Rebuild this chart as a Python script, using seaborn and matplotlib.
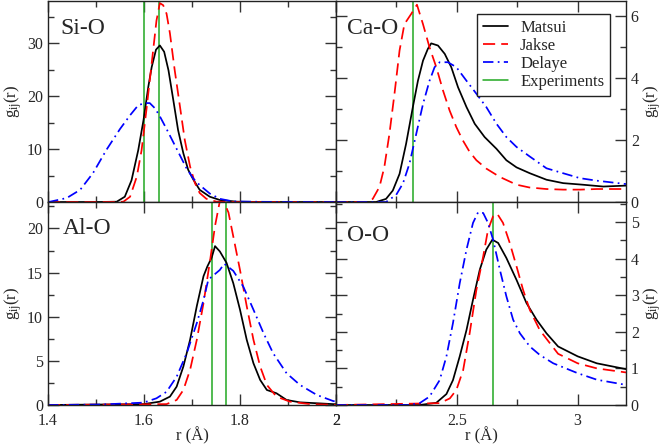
import numpy as np
import pandas as pd
import matplotlib
matplotlib.use("Agg")
import matplotlib.pyplot as plt
from matplotlib.ticker import MultipleLocator
import seaborn as sns

# ---------------- data ----------------
models = ["Matsui", "Jakse", "Delaye"]
exp_label = "Experiments"
panel_names = ["Si-O", "Ca-O", "Al-O", "O-O"]

# Si-O
sio_r_matsui = [1.40, 1.50, 1.543, 1.56, 1.574, 1.588, 1.599, 1.609, 1.616, 1.625, 1.633, 1.642, 1.651, 1.661, 1.671, 1.682, 1.692, 1.703, 1.716, 1.737, 1.758, 1.793, 1.85, 2.0]
sio_g_matsui = [0.0, 0.0, 0.05, 1.0, 4.1, 9.8, 15.5, 21.8, 25.5, 28.8, 29.6, 28.4, 24.9, 19.3, 13.6, 9.2, 6.1, 4.2, 2.3, 1.0, 0.38, 0.06, 0.0, 0.0]
sio_r_jakse = [1.40, 1.50, 1.557, 1.571, 1.585, 1.595, 1.605, 1.616, 1.626, 1.633, 1.640, 1.647, 1.654, 1.664, 1.675, 1.685, 1.696, 1.706, 1.716, 1.730, 1.751, 1.80, 2.0]
sio_g_jakse = [0.0, 0.0, 0.05, 1.0, 4.8, 9.8, 17.4, 26.2, 34.3, 37.6, 37.2, 35.6, 31.9, 24.9, 18.0, 11.7, 6.7, 3.6, 1.7, 0.6, 0.06, 0.0, 0.0]
sio_r_delaye = [1.40, 1.404, 1.439, 1.467, 1.494, 1.522, 1.55, 1.571, 1.588, 1.602, 1.612, 1.623, 1.633, 1.647, 1.661, 1.675, 1.689, 1.703, 1.716, 1.737, 1.758, 1.786, 1.85, 2.0]
sio_g_delaye = [0.0, 0.05, 0.75, 2.3, 5.5, 9.9, 13.8, 16.4, 18.3, 18.7, 18.7, 17.7, 16.2, 13.8, 11.3, 8.8, 6.3, 4.4, 3.2, 1.6, 0.6, 0.1, 0.03, 0.0]
sio_exp = [1.60, 1.631]

# Ca-O
cao_r_matsui = [2.0, 2.166, 2.207, 2.235, 2.263, 2.29, 2.318, 2.339, 2.36, 2.38, 2.394, 2.422, 2.45, 2.477, 2.505, 2.54, 2.574, 2.615, 2.664, 2.705, 2.747, 2.802, 2.871, 2.94, 3.02, 3.106, 3.2]
cao_g_matsui = [0.0, 0.0, 0.1, 0.37, 0.91, 1.88, 3.07, 3.92, 4.57, 4.95, 5.13, 5.06, 4.79, 4.36, 3.71, 3.07, 2.53, 2.1, 1.72, 1.35, 1.12, 0.93, 0.72, 0.61, 0.56, 0.5, 0.53]
cao_r_jakse = [2.0, 2.124, 2.152, 2.18, 2.2, 2.221, 2.242, 2.263, 2.283, 2.311, 2.335, 2.36, 2.387, 2.415, 2.443, 2.47, 2.498, 2.525, 2.553, 2.581, 2.622, 2.678, 2.747, 2.80, 2.87, 2.94, 3.01, 3.08, 3.2]
cao_g_jakse = [0.0, 0.0, 0.1, 0.49, 1.13, 2.2, 3.5, 4.9, 5.75, 6.08, 6.38, 5.75, 5.0, 4.36, 3.6, 2.96, 2.42, 1.99, 1.62, 1.35, 1.08, 0.81, 0.56, 0.47, 0.42, 0.40, 0.40, 0.42, 0.42]
cao_r_delaye = [2.0, 2.207, 2.249, 2.277, 2.304, 2.332, 2.36, 2.387, 2.408, 2.429, 2.463, 2.498, 2.54, 2.581, 2.622, 2.664, 2.705, 2.747, 2.802, 2.871, 2.94, 3.01, 3.079, 3.2]
cao_g_delaye = [0.0, 0.0, 0.23, 0.6, 1.24, 2.2, 3.17, 3.92, 4.36, 4.52, 4.52, 4.36, 3.92, 3.5, 3.07, 2.53, 2.1, 1.78, 1.47, 1.09, 0.93, 0.77, 0.69, 0.58]
cao_exp = [2.32]

# Al-O
alo_r_matsui = [1.40, 1.599, 1.633, 1.654, 1.668, 1.682, 1.696, 1.71, 1.724, 1.732, 1.741, 1.748, 1.758, 1.772, 1.786, 1.80, 1.814, 1.828, 1.842, 1.856, 1.876, 1.897, 1.925, 1.994, 2.0]
alo_g_matsui = [0.0, 0.1, 0.38, 0.95, 2.08, 4.36, 7.39, 11.2, 14.6, 15.7, 16.7, 18.0, 17.4, 16.1, 13.8, 10.8, 7.39, 4.73, 2.84, 1.7, 1.33, 0.57, 0.3, 0.1, 0.1]
alo_r_jakse = [1.40, 1.647, 1.668, 1.682, 1.696, 1.71, 1.724, 1.738, 1.748, 1.758, 1.765, 1.776, 1.786, 1.80, 1.814, 1.828, 1.842, 1.856, 1.876, 1.904, 1.946, 2.0]
alo_g_jakse = [0.0, 0.1, 0.57, 1.7, 3.98, 7.39, 11.55, 16.5, 20.3, 23.1, 23.2, 21.8, 19.1, 15.3, 11.2, 7.39, 4.36, 2.27, 0.95, 0.38, 0.1, 0.02]
alo_r_delaye = [1.40, 1.508, 1.599, 1.626, 1.647, 1.668, 1.689, 1.71, 1.724, 1.734, 1.744, 1.758, 1.767, 1.786, 1.807, 1.828, 1.849, 1.869, 1.897, 1.925, 1.96, 1.994, 2.0]
alo_g_delaye = [0.0, 0.05, 0.27, 0.76, 1.5, 3.2, 5.87, 9.28, 11.9, 14.2, 14.66, 15.3, 16.0, 15.2, 13.4, 10.8, 8.14, 5.87, 3.6, 2.27, 1.14, 0.45, 0.4]
alo_exp = [1.741, 1.771]

# O-O
oo_r_matsui = [2.0, 2.346, 2.415, 2.457, 2.484, 2.512, 2.54, 2.567, 2.595, 2.622, 2.647, 2.671, 2.705, 2.747, 2.788, 2.83, 2.871, 2.919, 3.0, 3.079, 3.2]
oo_g_matsui = [0.0, 0.0, 0.06, 0.3, 0.68, 1.33, 2.05, 2.88, 3.7, 4.25, 4.52, 4.43, 4.02, 3.42, 2.79, 2.33, 1.96, 1.6, 1.33, 1.14, 0.98]
oo_r_jakse = [2.0, 2.429, 2.471, 2.498, 2.526, 2.553, 2.581, 2.609, 2.629, 2.65, 2.667, 2.691, 2.719, 2.747, 2.774, 2.802, 2.843, 2.885, 2.919, 3.0, 3.08, 3.2]
oo_g_jakse = [0.0, 0.05, 0.18, 0.41, 0.95, 1.96, 3.15, 4.06, 4.79, 5.16, 5.23, 4.98, 4.43, 3.79, 3.15, 2.6, 2.05, 1.69, 1.4, 1.14, 1.0, 0.89]
oo_r_delaye = [2.0, 2.30, 2.346, 2.387, 2.429, 2.457, 2.484, 2.512, 2.54, 2.567, 2.588, 2.609, 2.629, 2.65, 2.678, 2.705, 2.733, 2.761, 2.802, 2.843, 2.899, 3.0, 3.08, 3.2]
oo_g_delaye = [0.0, 0.0, 0.05, 0.23, 0.68, 1.33, 2.24, 3.33, 4.25, 4.98, 5.27, 5.25, 4.98, 4.52, 3.7, 2.97, 2.33, 1.96, 1.6, 1.37, 1.14, 0.87, 0.69, 0.55]
oo_exp = [2.65]

# ---------------- style ----------------
sns.set_style("ticks")
plt.rcParams["font.family"] = ["Liberation Serif", "DejaVu Serif"]
plt.rcParams["mathtext.fontset"] = "custom"
plt.rcParams["mathtext.rm"] = "Liberation Serif"
plt.rcParams["mathtext.it"] = "Liberation Serif:italic"

colors = {"Matsui": "black", "Jakse": "#ff0000", "Delaye": "#0000ff"}
dashes = {"Matsui": (None, None), "Jakse": (7, 3.5), "Delaye": (6, 2.5, 1, 2.5)}
exp_color = "#22a822"

panels = [
    dict(name="Si-O", data={"Matsui": (sio_r_matsui, sio_g_matsui), "Jakse": (sio_r_jakse, sio_g_jakse), "Delaye": (sio_r_delaye, sio_g_delaye)},
         exp=sio_exp, xlim=(1.4, 2.0), ylim=(0, 38), ymaj=10, ymin=5, xmaj=0.2, xmin=0.1, pos=[48, 1, 288, 201],
         right=False, bottom=False, lab=(0.042, 0.915)),
    dict(name="Ca-O", data={"Matsui": (cao_r_matsui, cao_g_matsui), "Jakse": (cao_r_jakse, cao_g_jakse), "Delaye": (cao_r_delaye, cao_g_delaye)},
         exp=cao_exp, xlim=(2.0, 3.2), ylim=(0, 6.5), ymaj=2, ymin=1, xmaj=0.5, xmin=0.25, pos=[336, 1, 290, 201],
         right=True, bottom=False, lab=(0.038, 0.915)),
    dict(name="Al-O", data={"Matsui": (alo_r_matsui, alo_g_matsui), "Jakse": (alo_r_jakse, alo_g_jakse), "Delaye": (alo_r_delaye, alo_g_delaye)},
         exp=alo_exp, xlim=(1.4, 2.0), ylim=(0, 23), ymaj=5, ymin=2.5, xmaj=0.2, xmin=0.1, pos=[48, 202, 288, 203],
         right=False, bottom=True, lab=(0.052, 0.92)),
    dict(name="O-O", data={"Matsui": (oo_r_matsui, oo_g_matsui), "Jakse": (oo_r_jakse, oo_g_jakse), "Delaye": (oo_r_delaye, oo_g_delaye)},
         exp=oo_exp, xlim=(2.0, 3.2), ylim=(0, 5.55), ymaj=1, ymin=0.5, xmaj=0.5, xmin=0.25, pos=[336, 202, 290, 203],
         right=True, bottom=True, lab=(0.038, 0.885)),
]

W, H = 665, 446
fig = plt.figure(figsize=(W / 100, H / 100), dpi=100)

for p in panels:
    x0, y0, w, h = p["pos"]
    ax = fig.add_axes([x0 / W, 1 - (y0 + h) / H, w / W, h / H])
    for m in models:
        r, g = p["data"][m]
        df = pd.DataFrame({"r": r, "g": g})
        sns.lineplot(data=df, x="r", y="g", ax=ax, color=colors[m], lw=1.25,
                     dashes=False, label=m, sort=False, estimator=None)
        line = ax.get_lines()[-1]
        if dashes[m][0] is not None:
            line.set_dashes(dashes[m])
    for i, e in enumerate(p["exp"]):
        ax.axvline(e, color=exp_color, lw=1.1, label=exp_label if i == 0 else None, zorder=1)
    ax.set_xlim(*p["xlim"])
    ax.set_ylim(*p["ylim"])
    ax.xaxis.set_major_locator(MultipleLocator(p["xmaj"]))
    ax.xaxis.set_minor_locator(MultipleLocator(p["xmin"]))
    ax.yaxis.set_major_locator(MultipleLocator(p["ymaj"]))
    ax.yaxis.set_minor_locator(MultipleLocator(p["ymin"]))
    ax.tick_params(which="both", direction="in", top=True, bottom=True, left=True, right=True,
                   labelsize=11.5, width=1.0, color="#333333")
    ax.tick_params(which="major", length=8)
    ax.tick_params(which="minor", length=4.5)
    ax.tick_params(axis="x", which="major", pad=5.5)
    for s in ax.spines.values():
        s.set_linewidth(1.0)
        s.set_color("#222222")
    ax.set_ylabel(r"g$_{\mathrm{ij}}$(r)", fontsize=12, labelpad=2)
    if p["right"]:
        ax.yaxis.set_label_position("right")
        ax.tick_params(labelleft=False, labelright=True)
    if p["bottom"]:
        ax.set_xlabel("r (Å)", fontsize=12, labelpad=-1)
        ax.xaxis.set_major_formatter(matplotlib.ticker.FuncFormatter(lambda v, pos: f"{v:g}"))
    else:
        ax.set_xlabel("")
        ax.tick_params(labelbottom=False)
    ax.text(p["lab"][0], p["lab"][1], p["name"], transform=ax.transAxes, fontsize=17, va="top", ha="left")
    if p["name"] == "Ca-O":
        ax.legend(loc="upper right", bbox_to_anchor=(0.945, 0.935), borderaxespad=0,
                  fontsize=12, frameon=True, fancybox=False, framealpha=1, edgecolor="#222222",
                  handlelength=1.5, handletextpad=0.75, labelspacing=0.12, borderpad=0.35)
        ax.get_legend().get_frame().set_linewidth(1.0)
    else:
        lg = ax.get_legend()
        if lg is not None:
            lg.remove()

fig.savefig("out.png", dpi=100)
